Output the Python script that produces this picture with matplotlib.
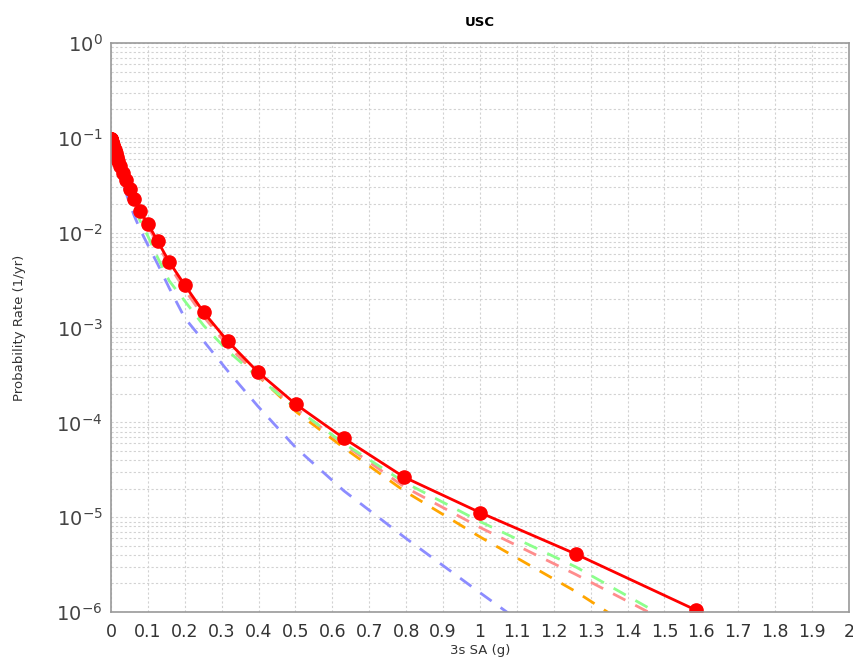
import matplotlib
matplotlib.use('Agg')
import matplotlib.pyplot as plt
from matplotlib.ticker import FixedLocator, NullFormatter, LogLocator

# spectral acceleration levels (g)
sa = [0.0001, 0.000126, 0.000158, 0.0002, 0.000251, 0.000316, 0.000398, 0.000501, 0.000631, 0.000794,
      0.001, 0.00126, 0.00158, 0.002, 0.00251, 0.00316, 0.00398, 0.00501, 0.00631, 0.00794,
      0.01, 0.0126, 0.0158, 0.02, 0.0251, 0.0316, 0.0398, 0.0501, 0.0631, 0.0794,
      0.1, 0.126, 0.158, 0.2, 0.251, 0.316, 0.398, 0.501, 0.631, 0.794,
      1.0, 1.259, 1.585, 1.995]

# mean hazard curve (red, with markers)
mean_curve = [0.097, 0.0968, 0.0966, 0.0963, 0.096, 0.0956, 0.0952, 0.0947, 0.0942, 0.0936,
              0.0929, 0.0921, 0.0912, 0.0901, 0.0889, 0.0874, 0.0857, 0.0837, 0.0812, 0.0783,
              0.0745, 0.0695, 0.0635, 0.0570, 0.0500, 0.0430, 0.0360, 0.0290, 0.0228, 0.0168,
              0.0124, 0.0082, 0.0049, 0.0028, 0.00145, 0.00072, 0.00034, 0.000155, 0.000068, 0.0000265,
              0.0000112, 0.0000041, 0.00000105, 0.0000002]

# individual branch curves (dashed)
green_curve = [0.097, 0.0968, 0.0966, 0.0963, 0.096, 0.0956, 0.0952, 0.0947, 0.0942, 0.0936,
               0.0929, 0.0921, 0.0912, 0.0901, 0.0889, 0.0874, 0.0857, 0.0835, 0.0808, 0.0776,
               0.0735, 0.0680, 0.0615, 0.0545, 0.0470, 0.0395, 0.0320, 0.0250, 0.0185, 0.0132,
               0.0092, 0.0055, 0.0031, 0.0019, 0.00105, 0.00057, 0.00030, 0.000140, 0.000060, 0.0000235,
               0.0000090, 0.0000030, 0.00000058, 0.0000001]

pink_curve = [0.097, 0.0968, 0.0966, 0.0963, 0.096, 0.0956, 0.0952, 0.0947, 0.0942, 0.0936,
              0.0929, 0.0921, 0.0912, 0.0901, 0.0889, 0.0874, 0.0857, 0.0836, 0.0810, 0.0780,
              0.0740, 0.0690, 0.0628, 0.0562, 0.0492, 0.0420, 0.0350, 0.0280, 0.0218, 0.0160,
              0.0117, 0.0076, 0.0045, 0.0025, 0.00130, 0.00065, 0.00031, 0.000140, 0.000059, 0.000021,
              0.0000078, 0.0000025, 0.00000055, 0.0000001]

orange_curve = [0.097, 0.0968, 0.0966, 0.0963, 0.096, 0.0956, 0.0952, 0.0947, 0.0942, 0.0936,
                0.0929, 0.0921, 0.0912, 0.0901, 0.0889, 0.0874, 0.0857, 0.0837, 0.0811, 0.0781,
                0.0742, 0.0692, 0.0632, 0.0566, 0.0496, 0.0426, 0.0356, 0.0286, 0.0224, 0.0164,
                0.0120, 0.0079, 0.0047, 0.0027, 0.00138, 0.00068, 0.00031, 0.000130, 0.000054, 0.000019,
                0.0000062, 0.00000165, 0.00000025, 0.00000003]

blue_curve = [0.097, 0.0968, 0.0966, 0.0963, 0.096, 0.0956, 0.0952, 0.0947, 0.0942, 0.0936,
              0.0929, 0.0920, 0.0910, 0.0897, 0.0882, 0.0863, 0.0840, 0.0812, 0.0778, 0.0738,
              0.0690, 0.0630, 0.0560, 0.0485, 0.0410, 0.0337, 0.0268, 0.0205, 0.0150, 0.0107,
              0.0074, 0.0047, 0.0026, 0.00126, 0.00072, 0.00035, 0.000148, 0.000054, 0.000019, 0.0000062,
              0.0000016, 0.0000003, 0.00000004, 0.000000004]

xticks = [i / 10 for i in range(21)]
xtick_labels = ['0', '0.1', '0.2', '0.3', '0.4', '0.5', '0.6', '0.7', '0.8', '0.9', '1',
                '1.1', '1.2', '1.3', '1.4', '1.5', '1.6', '1.7', '1.8', '1.9', '2']
yticks = [1e-6, 1e-5, 1e-4, 1e-3, 1e-2, 1e-1, 1e0]
ytick_labels = [r'$10^{-6}$', r'$10^{-5}$', r'$10^{-4}$', r'$10^{-3}$', r'$10^{-2}$', r'$10^{-1}$', r'$10^{0}$']

fig = plt.figure(figsize=(8.54, 6.62), dpi=100)
ax = fig.add_axes([0.130, 0.0755, 0.864, 0.8595])

dash = (0, (5, 4))
ax.plot(sa, blue_curve, color='#8c8cff', lw=2, linestyle=dash)
ax.plot(sa, orange_curve, color='#ffa500', lw=2, linestyle=dash)
ax.plot(sa, pink_curve, color='#ff8c8c', lw=2, linestyle=dash)
ax.plot(sa, green_curve, color='#8cff8c', lw=2, linestyle=dash)
ax.plot(sa, mean_curve, color='#ff0000', lw=2, marker='o', markersize=9.5,
        markeredgecolor='#ff0000', markerfacecolor='#ff0000')

ax.set_yscale('log')
ax.set_xlim(0, 2)
ax.set_ylim(1e-6, 1)

ax.xaxis.set_major_locator(FixedLocator(xticks))
ax.set_xticklabels(xtick_labels)
ax.yaxis.set_major_locator(FixedLocator(yticks))
ax.set_yticklabels(ytick_labels)
ax.yaxis.set_minor_locator(LogLocator(base=10, subs=range(2, 10), numticks=20))
ax.yaxis.set_minor_formatter(NullFormatter())

ax.grid(True, which='major', color='#d2d2d2', linestyle=(0, (2, 2)), lw=0.8)
ax.grid(True, which='minor', axis='y', color='#d2d2d2', linestyle=(0, (2, 2)), lw=0.8)
ax.set_axisbelow(True)

ax.tick_params(axis='both', which='both', length=0)
ax.tick_params(axis='x', labelsize=12.5, colors='#333333', pad=8)
ax.tick_params(axis='y', labelsize=14, colors='#444444', pad=6)

for s in ax.spines.values():
    s.set_color('#999999')
    s.set_linewidth(1.2)

ax.set_title('USC', fontsize=9.5, fontweight='bold', pad=12)
ax.set_xlabel('3s SA (g)', fontsize=9.5, color='#333333', labelpad=2)
ax.set_ylabel('Probability Rate (1/yr)', fontsize=9.5, color='#333333', labelpad=22)

fig.savefig('out.png', dpi=100)
